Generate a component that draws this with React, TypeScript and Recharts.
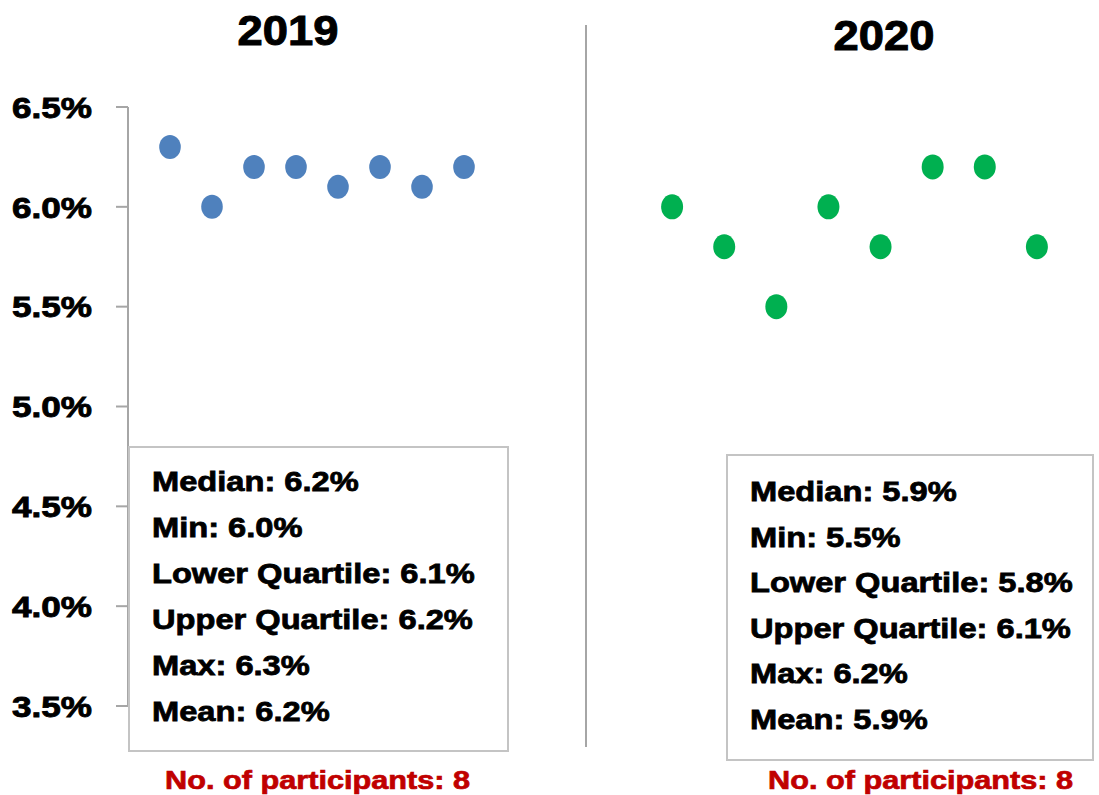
import React from 'react'
import { ScatterChart, Scatter, XAxis, YAxis } from 'recharts'

const participants = [1, 2, 3, 4, 5, 6, 7, 8]
const rates2019 = [6.3, 6.0, 6.2, 6.2, 6.1, 6.2, 6.1, 6.2]
const rates2020 = [6.0, 5.8, 5.5, 6.0, 5.8, 6.2, 6.2, 5.8]
const yTicks = [3.5, 4.0, 4.5, 5.0, 5.5, 6.0, 6.5]

const statLabels = ['Median', 'Min', 'Lower Quartile', 'Upper Quartile', 'Max', 'Mean']
const stats2019 = [6.2, 6.0, 6.1, 6.2, 6.3, 6.2]
const stats2020 = [5.9, 5.5, 5.8, 6.1, 6.2, 5.9]
const participantCount = [8, 8]

const FONT = '"Liberation Sans", Arial, sans-serif'
const AXIS_GREY = '#a6a6a6'

const data2019 = participants.map((p, i) => ({ x: p, y: rates2019[i] }))
const data2020 = participants.map((p, i) => ({ x: p, y: rates2020[i] }))

const PctTick = (props: any) => {
  const { x, y, payload } = props
  return (
    <text
      x={x}
      y={y}
      dy="0.36em"
      textAnchor="end"
      fontFamily={FONT}
      fontWeight="bold"
      fontSize={30}
      fill="#000"
      stroke="#000"
      strokeWidth={0.9}
      transform={`translate(${x} ${y}) scale(1.17 1) translate(${-x} ${-y})`}
    >
      {payload.value.toFixed(1)}%
    </text>
  )
}

const dot = (fill: string, rx: number, ry: number) => (props: any) => (
  <ellipse cx={props.cx} cy={props.cy} rx={rx} ry={ry} fill={fill} />
)

const stretched = (scale: number): React.CSSProperties => ({
  transform: `scaleX(${scale})`,
  transformOrigin: 'left center',
  whiteSpace: 'nowrap',
})

function StatsBox({ left, top, width, height, values, step, first }: {
  left: number; top: number; width: number; height: number
  values: number[]; step: number; first: number
}) {
  return (
    <div style={{
      position: 'absolute', left, top, width, height,
      border: '2px solid #c4c4c4', background: '#fff', boxSizing: 'border-box',
    }}>
      {statLabels.map((label, i) => (
        <div
          key={label}
          style={{
            position: 'absolute', left: 22, top: first + i * step - 23,
            height: 46, lineHeight: '46px',
            fontFamily: FONT, fontWeight: 'bold', fontSize: 28, color: '#000',
            WebkitTextStroke: '0.8px #000',
            ...stretched(1.165),
          }}
        >
          {label}: {values[i].toFixed(1)}%
        </div>
      ))}
    </div>
  )
}

const Title = ({ text, cx, cy }: { text: string; cx: number; cy: number }) => (
  <div style={{
    position: 'absolute', left: cx - 100, top: cy - 25, width: 200, height: 50,
    lineHeight: '50px', textAlign: 'center',
    fontFamily: FONT, fontWeight: 'bold', fontSize: 42, color: '#000',
    WebkitTextStroke: '1px #000',
    transform: 'scaleX(1.08)',
  }}>
    {text}
  </div>
)

const Participants = ({ left, count }: { left: number; count: number }) => (
  <div style={{
    position: 'absolute', left, top: 765, height: 30, lineHeight: '30px',
    fontFamily: FONT, fontWeight: 'bold', fontSize: 26, color: '#c00000',
    WebkitTextStroke: '0.7px #c00000',
    ...stretched(1.18),
  }}>
    No. of participants: {count}
  </div>
)

export default function App() {
  return (
    <div style={{
      position: 'absolute', left: 0, top: 0, width: 1099, height: 795,
      background: '#fff', overflow: 'hidden',
    }}>
      <div style={{ position: 'absolute', left: 0, top: 0 }}>
        <ScatterChart width={585} height={795} margin={{ top: 107, right: 79, bottom: 89, left: 0 }}>
          <XAxis type="number" dataKey="x" domain={[0, 9]} hide />
          <YAxis
            type="number"
            dataKey="y"
            domain={[3.5, 6.5]}
            ticks={yTicks}
            width={128}
            tickSize={12}
            tickMargin={24}
            interval={0}
            axisLine={{ stroke: AXIS_GREY, strokeWidth: 2 }}
            tickLine={{ stroke: AXIS_GREY, strokeWidth: 2 }}
            tick={<PctTick />}
          />
          <Scatter data={data2019} shape={dot('#4f81bd', 10.8, 12)} isAnimationActive={false} />
        </ScatterChart>
      </div>

      <div style={{ position: 'absolute', left: 585, top: 0 }}>
        <ScatterChart width={514} height={795} margin={{ top: 107, right: 10, bottom: 89, left: 35 }}>
          <XAxis type="number" dataKey="x" domain={[0, 9]} hide />
          <YAxis type="number" dataKey="y" domain={[3.5, 6.5]} hide />
          <Scatter data={data2020} shape={dot('#00b050', 11, 12.5)} isAnimationActive={false} />
        </ScatterChart>
      </div>

      {/* divider between the two years */}
      <div style={{ position: 'absolute', left: 585, top: 25, width: 2, height: 722, background: AXIS_GREY }} />

      <Title text="2019" cx={287.5} cy={31} />
      <Title text="2020" cx={883.5} cy={36} />

      <StatsBox left={128} top={446} width={381} height={306} values={stats2019} step={46} first={34} />
      <StatsBox left={726} top={454} width={368} height={307} values={stats2020} step={45.6} first={36} />

      <Participants left={165} count={participantCount[0]} />
      <Participants left={768} count={participantCount[1]} />
    </div>
  )
}
